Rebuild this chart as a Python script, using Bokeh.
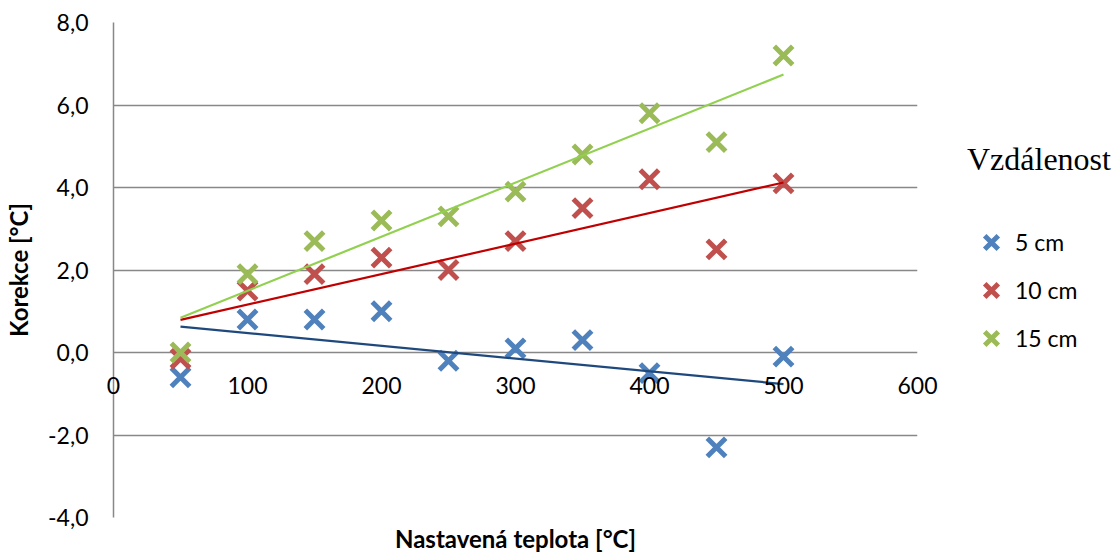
import numpy as np
from bokeh.plotting import figure
from bokeh.layouts import row
from bokeh.models import (Range1d, FixedTicker, Legend, LegendItem, Title, ColumnDataSource)
from bokeh.core.properties import value
from bokeh.embed import file_html
from bokeh.resources import INLINE

# ---- data ----
teplota = [50, 100, 150, 200, 250, 300, 350, 400, 450, 500]
korekce_5cm = [-0.6, 0.8, 0.8, 1.0, -0.2, 0.1, 0.3, -0.5, -2.3, -0.1]
korekce_10cm = [-0.15, 1.5, 1.9, 2.3, 2.0, 2.7, 3.5, 4.2, 2.5, 4.1]
korekce_15cm = [0.0, 1.9, 2.7, 3.2, 3.3, 3.9, 4.8, 5.8, 5.1, 7.2]
series_names = ["5 cm", "10 cm", "15 cm"]
legend_title = "Vzdálenost"
x_ticks = [0, 100, 200, 300, 400, 500, 600]
x_tick_labels = ["0", "100", "200", "300", "400", "500", "600"]
y_ticks = [-4, -2, 0, 2, 4, 6, 8]
y_tick_labels = ["-4,0", "-2,0", "0,0", "2,0", "4,0", "6,0", "8,0"]
x_title = "Nastavená teplota [°C]"
y_title = "Korekce [°C]"

marker_colors = ["#4F81BD", "#C0504D", "#9BBB59"]
trend_colors = ["#1F497D", "#C00000", "#92D050"]
FONT = "Lato"

p = figure(width=947, height=556, output_backend="svg", toolbar_location=None,
           x_range=Range1d(0, 600), y_range=Range1d(-4, 8),
           x_axis_location=None, min_border_left=113, min_border_right=30,
           min_border_top=22, min_border_bottom=38)
p.outline_line_color = None
p.xgrid.grid_line_color = None
p.ygrid.grid_line_color = "#888888"
p.ygrid.grid_line_width = 1.5
p.ygrid.ticker = FixedTicker(ticks=y_ticks)

yax = p.yaxis[0]
yax.ticker = FixedTicker(ticks=y_ticks)
yax.major_label_overrides = {t: l for t, l in zip(y_ticks, y_tick_labels)}
yax.major_tick_out = 0
yax.major_tick_in = 0
yax.minor_tick_out = 0
yax.minor_tick_in = 0
yax.axis_line_color = "#888888"
yax.axis_line_width = 1.5
yax.major_label_standoff = 25
yax.major_label_text_font = FONT
yax.major_label_text_font_size = "23px"
yax.major_label_text_color = "black"
yax.axis_label = y_title
yax.axis_label_text_font = FONT
yax.axis_label_text_font_size = "24px"
yax.axis_label_text_font_style = "bold"
yax.axis_label_text_color = "black"
yax.axis_label_standoff = 12

# x tick labels along the y=0 line
xsrc = ColumnDataSource(dict(x=x_ticks, y=[0] * len(x_ticks), t=x_tick_labels))
xt = p.text(x="x", y="y", text="t", source=xsrc, text_align="center", text_baseline="middle",
            y_offset=33, text_font=value(FONT), text_font_size="23px", text_color="black")
xt.level = "overlay"

xtitle = Title(text=x_title, align="center", text_font=FONT, text_font_size="24px",
               text_font_style="bold", text_color="black", standoff=8, offset=0)
p.add_layout(xtitle, "below")

series = [korekce_5cm, korekce_10cm, korekce_15cm]
for ys, mc in zip(series, marker_colors):
    p.scatter(teplota, ys, marker="x", size=26, line_color=mc, line_width=5)

for ys, tc in zip(series, trend_colors):
    k, q = np.polyfit(teplota, ys, 1)
    xs = [min(teplota), max(teplota)]
    p.line(xs, [k * v + q for v in xs], line_color=tc, line_width=2.2)

# legend panel (proxy renderers hold only the marker style; their single point is NaN, not drawn)
lf = figure(width=165, height=556, output_backend="svg", toolbar_location=None,
            x_range=Range1d(0, 1), y_range=Range1d(0, 1),
            x_axis_location=None, y_axis_location=None,
            min_border_left=0, min_border_right=0, min_border_top=0, min_border_bottom=0)
lf.outline_line_color = None
lf.grid.visible = False
items = []
for name, mc in zip(series_names, marker_colors):
    r = lf.scatter(x=[np.nan], y=[np.nan], marker="x", size=26, line_color=mc, line_width=5)
    items.append(LegendItem(label=name, renderers=[r]))

legend = Legend(items=items, title=legend_title, location=(20, 155))
legend.title_text_font = "Liberation Serif"
legend.title_text_font_size = "32px"
legend.title_text_font_style = "normal"
legend.title_text_color = "black"
legend.title_standoff = 40
legend.label_text_font = FONT
legend.label_text_font_size = "23px"
legend.label_text_color = "black"
legend.glyph_width = 48
legend.glyph_height = 48
legend.label_height = 48
legend.label_standoff = 0
legend.spacing = 0
legend.padding = 0
legend.margin = 0
legend.border_line_color = None
legend.background_fill_alpha = 0
lf.add_layout(legend)

layout = row(p, lf)
open("out.html", "w").write(file_html(layout, INLINE))
